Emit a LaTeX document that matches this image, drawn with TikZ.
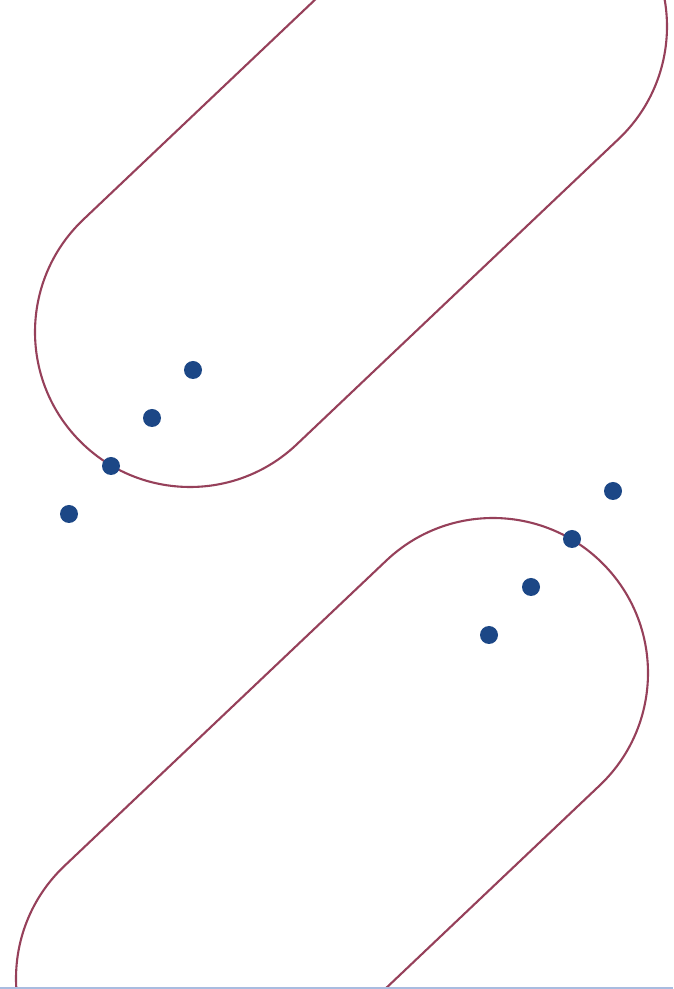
\documentclass[tikz,border=0pt]{standalone}
\usepackage{tikz}
\usepackage{xcolor}
\usetikzlibrary{calc}
\definecolor{rim}   {HTML}{96405A}
\definecolor{spot}  {HTML}{1C4786}
\definecolor{edge}  {HTML}{A9BCE0}
\tikzset{
  track/.style ={draw=rim, line width=2.1pt},
  spot/.style  ={circle, fill=spot, draw=none, inner sep=0pt,
                 minimum size=18pt},
  baseline/.style ={draw=edge, line width=2.5pt},
}

\begin{document}
\begin{tikzpicture}[x=1pt,y=1pt]
  \clip (0,0) rectangle (673,989);
  \fill[white] (0,0) rectangle (673,989);
  % centres of the two round ends of each track
  \coordinate (a1) at (190,657);
  \coordinate (b1) at (512,962.5);
  \coordinate (a2) at (171,10.5);
  \coordinate (b2) at (493,316);
  \def\rad{155}
  \def\tilt{43.5}
  % upper track
  \draw[track] ($(a1)+(\tilt-90:\rad)$) -- ($(b1)+(\tilt-90:\rad)$)
    arc[start angle=\tilt-90,end angle=\tilt+90,radius=\rad]
    -- ($(a1)+(\tilt+90:\rad)$)
    arc[start angle=\tilt+90,end angle=\tilt+270,radius=\rad] -- cycle;
  % lower track
  \draw[track] ($(a2)+(\tilt-90:\rad)$) -- ($(b2)+(\tilt-90:\rad)$)
    arc[start angle=\tilt-90,end angle=\tilt+90,radius=\rad]
    -- ($(a2)+(\tilt+90:\rad)$)
    arc[start angle=\tilt+90,end angle=\tilt+270,radius=\rad] -- cycle;
  % points
  \node[spot] (u1) at (193,619) {};
  \node[spot] (u2) at (152,571) {};
  \node[spot] (u3) at (111,523) {};
  \node[spot] (u4) at (69,475) {};
  \node[spot] (l1) at (613,498) {};
  \node[spot] (l2) at (572,450) {};
  \node[spot] (l3) at (531,402) {};
  \node[spot] (l4) at (489,354) {};
  \draw[baseline] (0,1) -- (673,1);
\end{tikzpicture}
\end{document}
